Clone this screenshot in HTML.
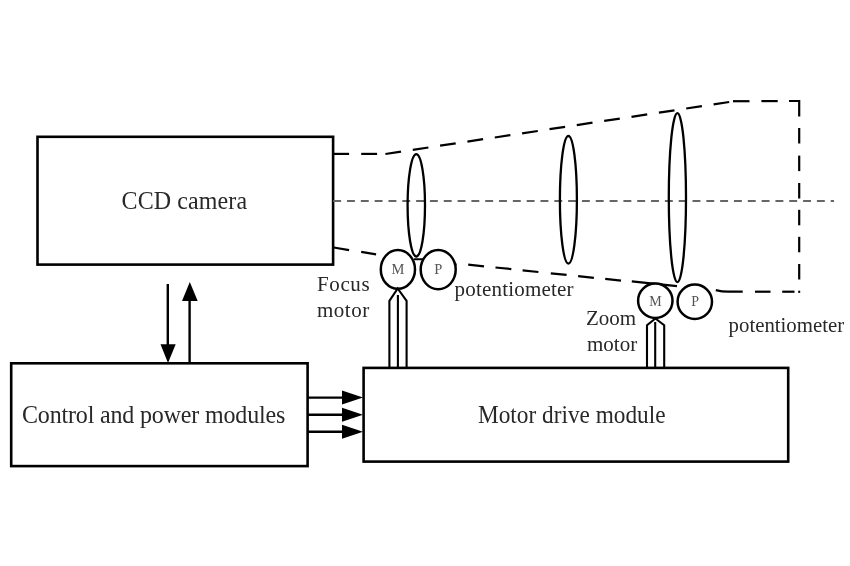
<!DOCTYPE html>
<html><head><meta charset="utf-8">
<style>
html,body{margin:0;padding:0;background:#fff;}
body{width:850px;height:566px;overflow:hidden;}
svg{display:block;filter:grayscale(1);}
text{font-family:"Liberation Serif",serif;fill:#282828;}
</style></head><body>
<svg width="850" height="566" viewBox="0 0 850 566">
<rect x="0" y="0" width="850" height="566" fill="#fff"/>
<g fill="none" stroke="#000" stroke-width="2.6">
  <rect x="37.5" y="136.8" width="295.6" height="127.8"/>
  <rect x="11.2" y="363.3" width="296.4" height="102.8"/>
  <rect x="363.6" y="367.9" width="424.6" height="93.7"/>
</g>
<g stroke="#000" stroke-width="2.4" fill="none">
  <line x1="167.8" y1="284" x2="167.8" y2="346"/>
  <line x1="189.6" y1="300" x2="189.6" y2="363"/>
  <line x1="307.6" y1="397.6" x2="344" y2="397.6"/>
  <line x1="307.6" y1="414.8" x2="344" y2="414.8"/>
  <line x1="307.6" y1="431.8" x2="344" y2="431.8"/>
</g>
<g fill="#000" stroke="none">
  <polygon points="160.5,344.3 175.7,344.3 168,363"/>
  <polygon points="182,301 197.7,301 189.8,282"/>
  <polygon points="342,390.5 342,404.5 363,397.6"/>
  <polygon points="342,407.7 342,421.7 363,414.8"/>
  <polygon points="342,424.8 342,438.8 363,431.8"/>
</g>
<line x1="333.2" y1="201" x2="834" y2="201" stroke="#666" stroke-width="2" stroke-dasharray="7.9 5.92"/>
<g fill="none" stroke="#000" stroke-width="2.2">
<line x1="333.7" y1="153.9" x2="349.1" y2="153.9"/>
<line x1="361.2" y1="153.9" x2="377.1" y2="153.9"/>
<line x1="385.4" y1="154.0" x2="401.0" y2="151.6"/>
<line x1="412.8" y1="149.9" x2="428.4" y2="147.5"/>
<line x1="440.1" y1="145.7" x2="455.7" y2="143.4"/>
<line x1="467.4" y1="141.6" x2="483.1" y2="139.2"/>
<line x1="494.8" y1="137.5" x2="510.4" y2="135.1"/>
<line x1="522.1" y1="133.3" x2="537.8" y2="131.0"/>
<line x1="549.5" y1="129.2" x2="565.1" y2="126.8"/>
<line x1="576.8" y1="125.1" x2="592.5" y2="122.7"/>
<line x1="604.2" y1="120.9" x2="619.8" y2="118.6"/>
<line x1="631.5" y1="116.8" x2="647.2" y2="114.4"/>
<line x1="658.9" y1="112.6" x2="674.5" y2="110.3"/>
<line x1="686.2" y1="108.5" x2="701.9" y2="106.2"/>
<line x1="713.6" y1="104.4" x2="729.2" y2="102.0"/>
<line x1="733.0" y1="101.2" x2="749.5" y2="101.2"/>
<line x1="761.4" y1="101.1" x2="777.7" y2="101.1"/>
<polyline points="789,101 799.2,101 799.2,116.5"/>
<line x1="799.2" y1="128.0" x2="799.2" y2="143.5"/>
<line x1="799.2" y1="155.6" x2="799.2" y2="171.1"/>
<line x1="799.2" y1="183.0" x2="799.2" y2="198.5"/>
<line x1="799.2" y1="209.8" x2="799.2" y2="225.3"/>
<line x1="799.2" y1="236.8" x2="799.2" y2="252.3"/>
<line x1="799.2" y1="264.0" x2="799.2" y2="279.5"/>
<line x1="798.2" y1="291.8" x2="800.2" y2="291.8"/>
<line x1="782.2" y1="291.7" x2="794.5" y2="291.7"/>
<line x1="755.0" y1="291.7" x2="770.5" y2="291.7"/>
<path d="M715.8,290.1 Q722,291.7 728,291.7 L742.7,291.7"/>
<line x1="333.7" y1="247.5" x2="349.1" y2="250.1"/>
<line x1="361.2" y1="251.9" x2="376.1" y2="254.4"/>
<line x1="388.0" y1="257.4" x2="404.0" y2="259.1"/>
<line x1="443.0" y1="263.2" x2="456.6" y2="264.5"/>
<line x1="468.2" y1="264.6" x2="484.0" y2="266.3"/>
<line x1="495.5" y1="267.5" x2="511.3" y2="269.1"/>
<line x1="522.6" y1="270.3" x2="538.4" y2="272.0"/>
<line x1="550.8" y1="273.3" x2="566.6" y2="274.9"/>
<line x1="578.1" y1="276.1" x2="593.9" y2="277.8"/>
<line x1="605.2" y1="278.9" x2="621.0" y2="280.6"/>
<line x1="631.8" y1="281.4" x2="677.0" y2="286.1"/>
</g>
<g fill="none" stroke="#000" stroke-width="2.3">
  <ellipse cx="416.3" cy="205.3" rx="8.7" ry="51.2"/>
  <ellipse cx="568.4" cy="199.8" rx="8.5" ry="63.8"/>
  <ellipse cx="677.4" cy="197.65" rx="8.6" ry="84.45"/>
</g>
<g fill="#fff" stroke="#000" stroke-width="2.5">
  <ellipse cx="397.9" cy="269.4" rx="17.1" ry="19.3"/>
  <ellipse cx="438.2" cy="269.6" rx="17.5" ry="19.6"/>
  <circle cx="655.3" cy="300.7" r="17.2"/>
  <circle cx="694.8" cy="301.8" r="17.2"/>
</g>
<g fill="none" stroke="#000" stroke-width="2.1">
  <line x1="414" y1="259.2" x2="424" y2="259.3"/>
  <polyline points="389.4,368 389.4,300.8 397.7,288.5 406.6,300.8 406.6,368"/>
  <line x1="397.9" y1="295" x2="397.9" y2="368"/>
  <polyline points="647,367.6 647,325.2 655.4,318.5 664.2,325.2 664.2,367.6"/>
  <line x1="655.2" y1="322" x2="655.2" y2="367.6"/>
</g>
<text transform="translate(121.6,208.6) scale(1,1.03)" font-size="24" letter-spacing="0.1">CCD camera</text>
<text transform="translate(22,423.0) scale(1,1.06)" font-size="24" letter-spacing="-0.16">Control and power modules</text>
<text transform="translate(478,423.3) scale(1,1.05)" font-size="23.3">Motor drive module</text>
<text transform="translate(317,291) scale(1,1.0)" font-size="21" letter-spacing="0.6">Focus</text>
<text transform="translate(317,317) scale(1,1.0)" font-size="21" letter-spacing="0.5">motor</text>
<text transform="translate(586,325.1) scale(1,1.0)" font-size="21">Zoom</text>
<text transform="translate(587,350.7) scale(1,1.0)" font-size="21">motor</text>
<text transform="translate(454.5,296) scale(1,1.0)" font-size="21" letter-spacing="0.2">potentiometer</text>
<text transform="translate(728.6,331.8) scale(1,1.0)" font-size="20.8">potentiometer</text>
<text transform="translate(397.9,274.3) scale(1,1)" font-size="14.5" style="fill:#555" text-anchor="middle">M</text>
<text transform="translate(438.2,274.3) scale(1,1)" font-size="14.5" style="fill:#555" text-anchor="middle">P</text>
<text transform="translate(655.4,306.1) scale(1,1)" font-size="14" style="fill:#555" text-anchor="middle">M</text>
<text transform="translate(695.2,306.3) scale(1,1)" font-size="14" style="fill:#555" text-anchor="middle">P</text>
</svg>
</body></html>
